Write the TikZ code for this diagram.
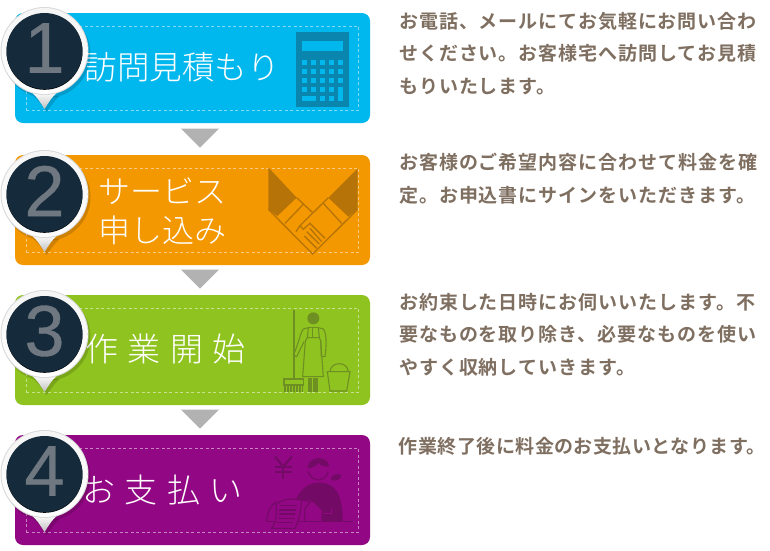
\documentclass[tikz,border=0pt]{standalone}
\usepackage{fontspec}
\usetikzlibrary{shapes.geometric}
\newfontfamily\jplight{Noto Sans CJK JP Light}
\newfontfamily\jpwide[LetterSpace=28]{Noto Sans CJK JP Light}
\newfontfamily\jpbody[LetterSpace=5]{Noto Sans CJK JP Bold}
\newfontfamily\jptight[LetterSpace=2.5]{Noto Sans CJK JP Bold}
\newfontfamily\numfont[FakeBold=0.5]{Liberation Sans}
\definecolor{skyblue}{HTML}{00B7EE}
\definecolor{skydark}{HTML}{0A85AD}
\definecolor{amber}{HTML}{F39800}
\definecolor{amberdark}{HTML}{B57308}
\definecolor{leaf}{HTML}{8FC31F}
\definecolor{leafdark}{HTML}{6E8F22}
\definecolor{plum}{HTML}{920783}
\definecolor{plumdark}{HTML}{720A66}
\definecolor{pindark}{HTML}{152A3A}
\definecolor{pinnum}{HTML}{6F7780}
\definecolor{bodybrown}{HTML}{7F6F61}
\definecolor{downgray}{HTML}{B2B2B2}

\begin{document}
\begin{tikzpicture}[
  x=1pt, y=-1pt,
  banner/.style={rectangle, rounded corners=8pt, minimum width=355pt, minimum height=110pt, inner sep=0pt},
  seam/.style={rectangle, draw=white, draw opacity=0.5, dashed, line width=0.6pt, dash pattern=on 3pt off 2.5pt,
               minimum width=332.5pt, minimum height=84pt, inner sep=0pt},
  title/.style={text=white, anchor=west, inner sep=0pt, font=\jplight\fontsize{32.5}{39}\selectfont, align=left},
  widetitle/.style={title, font=\jpwide\fontsize{33}{39}\selectfont},
  kanatitle/.style={title, font=\jplight\fontsize{32}{39}\selectfont},
  body/.style={text=bodybrown, anchor=north west, inner sep=0pt, align=left, font=\jpbody\fontsize{19}{32.5}\selectfont},
  tightbody/.style={body, font=\jptight\fontsize{19}{32.5}\selectfont},
  downarrow/.style={isosceles triangle, isosceles triangle stretches, shape border rotate=-90, fill=downgray,
                    minimum width=38pt, minimum height=19pt, inner sep=0pt},
  numpin/.pic={
    \fill[black, opacity=0.15] (2,3) circle (44);
    \fill[black, opacity=0.15] (-11,45) .. controls (-6,50) .. (2,61) .. controls (10,50) .. (15,45) -- cycle;
    \shade[top color=white, middle color=white, bottom color=gray!50] (-13,41) .. controls (-7,47) .. (0,58) .. controls (7,47) .. (13,41) -- cycle;
    \fill[gray!30] (0,0) circle (44);
    \shade[top color=gray!8, bottom color=white] (0,0) circle (43);
    \fill[black!75!pindark] (0,0.8) circle (38);
    \fill[pindark] (0,0) circle (38);
    \node[text=pinnum, inner sep=0pt, font=\numfont\fontsize{72}{72}\selectfont] (num) at (0,-3) {#1};
  }
]
\useasboundingbox (0,0) rectangle (770,550);

% banners
\node[banner, fill=skyblue] (visit) at (192.5,68) {};
\node[banner, fill=amber]   (apply) at (192.5,210) {};
\node[banner, fill=leaf]    (work)  at (192.5,350) {};
\node[banner, fill=plum]    (pay)   at (192.5,490) {};
\node[seam] (visitseam) at (visit) {};
\node[seam] (applyseam) at (apply) {};
\node[seam] (workseam)  at (work)  {};
\node[seam] (payseam)   at (pay)   {};

% triangles between banners
\node[downarrow] (down1) at (200,136.5) {};
\node[downarrow] (down2) at (200,277.5) {};
\node[downarrow] (down3) at (200,417.5) {};

% calculator
\begin{scope}[shift={(285,25)}, scale=0.3333]
  \fill[skydark] (33,20) rectangle (191,245);
  \fill[skyblue] (50,48) rectangle (175,78);
  \foreach \kx in {50,78,105,132,159}
    \foreach \ky in {105,132,158}
      \fill[skyblue] (\kx,\ky) rectangle ++(16,16);
  \foreach \kx in {50,78,105,132}
    \fill[skyblue] (\kx,185) rectangle ++(16,16);
  \fill[skyblue] (50,212) rectangle (93,228);
  \fill[skyblue] (105,212) rectangle ++(16,16);
  \fill[skyblue] (132,212) rectangle ++(16,16);
  \fill[skyblue] (159,185) rectangle (175,228);
\end{scope}

% handshake
\begin{scope}[shift={(260,160)}, scale=0.3333, amberdark, line width=1.3pt]
  \fill (25,22) -- (110,113) -- (52,168) -- (25,148) -- cycle;
  \fill (293,25) -- (205,113) -- (265,170) -- (293,148) -- cycle;
  \draw (25,148) -- (158,282) -- (293,148);
  \draw (110,113) -- (157,157);
  \draw (130,133) -- (75,190);
  \draw (205,113) -- (120,197) -- (130,208) -- (150,190) -- (195,235);
  \draw (190,130) -- (245,190);
  \draw (150,205) -- (185,245);
  \draw (140,215) -- (178,252);
  \draw (133,228) -- (170,265);
  \draw (120,197) -- (108,215);
\end{scope}

% cleaner
\begin{scope}[shift={(280,305)}, scale=0.3333, leafdark, line width=1.1pt]
  \fill (100,40) circle (18);
  \draw[line width=1.5pt] (42,15) -- (42,222);
  \draw (12,222) rectangle (70,240);
  \foreach \bx in {15,24,33,42,51,60,68}
    \draw (\bx,240) -- (\bx,262);
  \draw (85,68) -- (70,72) .. controls (60,85) and (55,120) .. (40,150) -- (50,155) -- (72,110);
  \draw (115,68) -- (130,72) .. controls (140,85) and (140,120) .. (135,155) -- (124,155) -- (122,105);
  \draw (85,68) -- (115,68);
  \draw (85,68) -- (82,98) -- (118,98) -- (115,68);
  \draw (97,68) -- (97,98);
  \draw (82,98) -- (76,108) -- (68,215) -- (130,215) -- (122,108) -- (118,98);
  \fill (84,218) rectangle (97,262);
  \fill (100,218) rectangle (113,262);
  \draw (142,200) -- (210,200) -- (200,258) -- (150,258) -- cycle;
  \draw (150,200) .. controls (152,168) and (203,168) .. (205,200);
\end{scope}

% cashier
\begin{scope}[shift={(260,450)}, scale=0.3333, plumdark, line width=1.1pt]
  \draw[line width=2.2pt] (45,20) -- (70,50) -- (95,20);
  \draw[line width=2.2pt] (70,50) -- (70,88);
  \draw[line width=1.8pt] (45,52) -- (95,52);
  \draw[line width=1.8pt] (45,67) -- (95,67);
  \fill (143,55) .. controls (143,15) and (207,15) .. (207,50) .. controls (190,50) and (180,45) .. (175,38) .. controls (170,48) and (155,55) .. (143,55) -- cycle;
  \draw (145,65) .. controls (155,98) and (195,98) .. (205,65);
  \fill[rotate around={20:(228,82)}] (228,82) ellipse (16 and 9);
  \fill (108,150) .. controls (125,110) and (150,98) .. (178,98) .. controls (225,98) and (248,130) .. (248,215) -- (185,215) -- (185,178) -- (155,150) -- cycle;
  \draw[plum] (190,190) -- (215,190) -- (215,175);
  \draw (20,215) -- (278,215);
  \draw (133,215) -- (135,175) -- (155,150) -- (185,178);
  \draw (20,215) .. controls (22,185) and (35,160) .. (50,155);
  \draw (125,150) -- (150,155);
  \draw[fill=plum] (48,165) .. controls (60,150) and (90,143) .. (125,150) .. controls (122,185) and (120,205) .. (105,235) -- (35,235) .. controls (50,215) and (50,190) .. (48,165) -- cycle;
  \draw (60,167) -- (110,167);
  \draw (57,180) -- (107,180);
  \draw (56,192) -- (106,192);
  \draw (55,205) -- (104,205);
  \draw (52,218) -- (100,218);
\end{scope}

% titles
\node[title]     (visittitle) at (84.5,67)  {訪問見積もり};
\node[kanatitle] (applytitle) at (98,211) {サービス\\申し込み};
\node[widetitle] (worktitle)  at (85.5,349) {作業開始};
\node[widetitle] (paytitle)   at (82.5,490) {お支払い};

% descriptions
\node[body] (visittext) at (399,12)  {お電話、メールにてお気軽にお問い合わ\\せください。お客様宅へ訪問してお見積\\もりいたします。};
\node[body] (applytext) at (399,153) {お客様のご希望内容に合わせて料金を確\\定。お申込書にサインをいただきます。};
\node[body] (worktext)  at (399,293) {お約束した日時にお伺いいたします。不\\要なものを取り除き、必要なものを使い\\やすく収納していきます。};
\node[tightbody] (paytext) at (398.5,437) {作業終了後に料金のお支払いとなります。};

% number pins
\pic (pin1) at (44.5,51)  {numpin=1};
\pic (pin2) at (44.5,194) {numpin=2};
\pic (pin3) at (44.5,334) {numpin=3};
\pic (pin4) at (44.5,474) {numpin=4};
\end{tikzpicture}
\end{document}
